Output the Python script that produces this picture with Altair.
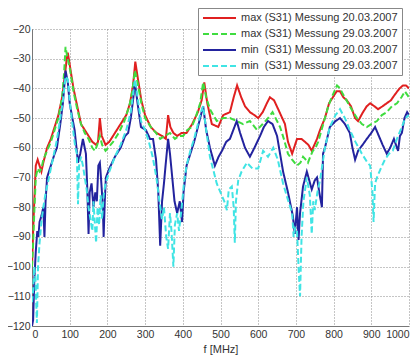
import altair as alt
import pandas as pd

SERIES = [
    "max (S31) Messung 20.03.2007",
    "max (S31) Messung 29.03.2007",
    "min\u00a0\u00a0(S31) Messung 20.03.2007",
    "min\u00a0\u00a0(S31) Messung 29.03.2007",
]
COLORS = ["#e02020", "#3fdc3f", "#23239e", "#40e4e4"]
DASHES = [[1, 0], [6, 3], [1, 0], [6, 3]]

# max 20.03.2007 (red)
red_f = [0, 3, 6, 10, 15, 20, 25, 30, 40, 50,
         60, 70, 80, 87, 92, 95, 100, 110, 120, 130,
         140, 150, 160, 170, 175, 180, 185, 195, 205, 220,
         235, 250, 260, 268, 274, 280, 290, 300, 315, 330,
         345, 355, 361, 367, 375, 385, 397, 410, 425, 440,
         450, 457, 465, 477, 494, 507, 525, 535, 544, 555,
         565, 578, 590, 600, 612, 623, 631, 642, 653, 671,
         679, 690, 703, 715, 724, 733, 742, 756, 764, 777,
         788, 798, 808, 817, 826, 835, 846, 857, 865, 878,
         888, 897, 908, 918, 930, 941, 952, 963, 975, 984,
         992, 1000]
red_v = [-100, -88, -78, -66, -64, -66, -68, -65, -60, -57,
         -53, -49, -43, -36, -30, -28, -32, -40, -46, -52,
         -54, -56, -58, -59, -58, -50, -56, -59, -58, -55,
         -52, -49, -45, -39, -31, -36, -44, -49, -53, -55,
         -56, -57, -49, -53, -55, -56, -55, -55, -52, -48,
         -44, -38, -45, -52, -53, -49, -48, -43, -39, -43,
         -46, -48, -49, -50, -48, -45, -43, -44, -47, -52,
         -58, -62, -57, -57, -58, -59, -61, -57, -54, -50,
         -45, -43, -41, -41, -43, -44, -46, -50, -51, -48,
         -46, -45, -46, -47, -46, -45, -44, -42, -40, -39,
         -39, -40]

# max 29.03.2007 (green, dashed)
green_f = [0, 3, 6, 10, 15, 20, 25, 30, 40, 50,
           60, 70, 80, 85, 89, 93, 100, 110, 120, 130,
           140, 150, 160, 167, 173, 180, 186, 195, 202, 215,
           230, 245, 258, 266, 273, 280, 290, 300, 315, 329,
           340, 352, 366, 379, 390, 401, 412, 424, 436, 446,
           454, 462, 472, 490, 507, 525, 543, 560, 578, 597,
           612, 626, 638, 650, 658, 668, 679, 690, 703, 712,
           719, 726, 732, 738, 745, 752, 759, 768, 777, 786,
           795, 802, 809, 817, 825, 834, 843, 852, 862, 875,
           888, 900, 915, 928, 941, 955, 968, 980, 989, 1000]
green_v = [-100, -92, -82, -70, -67, -68, -67, -64, -61, -58,
           -54, -50, -43, -35, -26, -29, -33, -41, -47, -52,
           -55, -57, -60, -61, -59, -56, -59, -61, -60, -58,
           -55, -51, -46, -41, -34, -38, -45, -50, -53, -55,
           -57, -56, -55, -57, -56, -56, -54, -53, -49, -45,
           -38, -43, -47, -51, -50, -50, -51, -52, -51, -54,
           -52, -50, -48, -51, -53, -57, -62, -64, -66, -65,
           -63, -64, -65, -63, -61, -60, -58, -54, -50, -46,
           -43, -41, -39, -40, -42, -44, -46, -48, -50, -52,
           -53, -52, -51, -49, -48, -46, -45, -43, -41, -43]

# min 20.03.2007 (dark blue)
blue_f = [0, 3, 6, 10, 14, 17, 20, 25, 30, 33,
          36, 40, 50, 60, 66, 75, 82, 89, 95, 100,
          107, 113, 118, 122, 128, 135, 143, 147, 150, 153,
          158, 163, 168, 172, 176, 180, 184, 188, 190, 193,
          196, 205, 220, 235, 247, 255, 262, 268, 273, 280,
          289, 302, 313, 321, 329, 335, 340, 345, 350, 355,
          361, 366, 372, 378, 385, 392, 398, 402, 410, 420,
          430, 440, 448, 454, 462, 472, 485, 495, 504, 515,
          525, 534, 543, 552, 565, 578, 590, 605, 615, 626,
          638, 650, 666, 679, 692, 697, 703, 707, 711, 719,
          729, 742, 750, 756, 762, 769, 772, 777, 790, 805,
          817, 830, 843, 850, 857, 865, 877, 888, 900, 910,
          920, 930, 941, 950, 960, 968, 971, 976, 981, 988,
          995, 1000]
blue_v = [-120, -118, -105, -95, -88, -90, -85, -83, -80, -90,
          -78, -70, -66, -62, -60, -52, -45, -34, -38, -45,
          -50, -54, -60, -65, -62, -57, -62, -75, -89, -75,
          -72, -80, -75, -78, -66, -65, -72, -80, -90, -78,
          -70, -67, -63, -60, -56, -55, -50, -44, -38, -45,
          -53, -54, -57, -57, -64, -75, -93, -78, -72, -65,
          -57, -62, -70, -78, -82, -78, -85, -75, -66, -62,
          -58, -53, -49, -46, -54, -60, -66, -63, -61, -58,
          -57, -54, -51, -55, -60, -63, -60, -56, -53, -51,
          -52, -56, -68, -75, -83, -89, -80, -91, -82, -73,
          -68, -74, -71, -70, -75, -80, -62, -60, -53, -51,
          -50, -52, -55, -60, -64, -61, -59, -57, -55, -53,
          -56, -59, -62, -60, -57, -60, -61, -56, -55, -50,
          -48, -49]

# min 29.03.2007 (cyan, dashed)
cyan_f = [0, 3, 6, 9, 13, 16, 20, 25, 30, 35,
          45, 55, 65, 75, 82, 89, 95, 100, 108, 115,
          119, 122, 125, 130, 135, 140, 145, 150, 155, 160,
          163, 167, 170, 174, 178, 182, 186, 190, 195, 205,
          220, 235, 250, 262, 268, 273, 280, 289, 300, 310,
          320, 330, 338, 345, 350, 356, 361, 366, 370, 375,
          379, 385, 390, 397, 403, 410, 420, 430, 440, 448,
          454, 462, 472, 482, 490, 500, 510, 517, 522, 530,
          535, 538, 541, 547, 556, 570, 585, 600, 613, 626,
          640, 652, 666, 680, 690, 694, 698, 703, 707, 711,
          715, 720, 729, 737, 742, 746, 750, 757, 764, 777,
          790, 805, 817, 830, 843, 858, 875, 890, 897, 903,
          906, 910, 915, 925, 936, 947, 957, 968, 981, 990,
          1000]
cyan_v = [-112, -108, -100, -104, -119, -100, -92, -85, -80, -76,
          -70, -64, -58, -50, -44, -36, -37, -44, -53, -60,
          -62, -79, -66, -63, -66, -70, -74, -80, -84, -88,
          -78, -86, -92, -80, -86, -76, -84, -76, -72, -68,
          -63, -59, -54, -48, -42, -37, -43, -51, -54, -58,
          -63, -70, -78, -84, -80, -90, -94, -82, -88, -100,
          -86, -82, -88, -80, -72, -66, -61, -57, -52, -48,
          -46, -54, -63, -68, -72, -75, -78, -81, -74, -73,
          -80, -92, -78, -71, -68, -65, -67, -67, -61, -63,
          -60, -64, -72, -78, -82, -90, -87, -88, -100, -110,
          -90, -78, -70, -76, -89, -78, -81, -75, -71, -60,
          -53, -49, -47, -50, -54, -58, -62, -65, -66, -75,
          -85, -72, -70, -67, -64, -62, -61, -57, -53, -50,
          -49]

X_TICKS = [0, 100, 200, 300, 400, 500, 600, 700, 800, 900, 1000]
Y_TICKS = [-120, -110, -100, -90, -80, -70, -60, -50, -40, -30, -20]

rows = []
for name, fs, vs in zip(SERIES, [red_f, green_f, blue_f, cyan_f],
                        [red_v, green_v, blue_v, cyan_v]):
    assert len(fs) == len(vs), (name, len(fs), len(vs))
    for i, (f, v) in enumerate(zip(fs, vs)):
        rows.append({"f": f, "v": v, "series": name, "i": i})
df = pd.DataFrame(rows)

FONT = "Liberation Sans"
LEG = dict(title=None, orient="none", legendX=166, legendY=-21)

chart = alt.Chart(df).mark_line(strokeWidth=2, clip=True).encode(
    x=alt.X("f:Q", scale=alt.Scale(domain=[0, 1000], nice=False),
            axis=alt.Axis(values=X_TICKS, title="f [MHz]", grid=True, format="d",
                          ticks=False, labelPadding=3, titlePadding=4)),
    y=alt.Y("v:Q", scale=alt.Scale(domain=[-120, -20], nice=False),
            axis=alt.Axis(values=Y_TICKS, title=None, grid=True, format="d",
                          ticks=False, labelPadding=2)),
    color=alt.Color("series:N", scale=alt.Scale(domain=SERIES, range=COLORS),
                    legend=alt.Legend(**LEG)),
    strokeDash=alt.StrokeDash("series:N",
                              scale=alt.Scale(domain=SERIES, range=DASHES),
                              legend=alt.Legend(**LEG)),
    order="i:Q",
    detail="series:N",
).properties(
    width=377, height=297,
    autosize=alt.AutoSizeParams(type="none"),
    padding={"left": 24, "top": 21, "right": 3, "bottom": 30},
).configure_view(
    stroke=None
).configure_axis(
    labelFont=FONT, labelFontSize=10.5, labelColor="#333333",
    titleFont=FONT, titleFontSize=11, titleColor="#333333", titleFontWeight="normal",
    domainColor="#777777", domainWidth=1,
    gridColor="#8a8a8a", gridDash=[1, 2], gridWidth=1, gridOpacity=1,
).configure_legend(
    fillColor="white", strokeColor="#888888", padding=4, rowPadding=5,
    symbolType="M-1,0L5.6,0", symbolSize=100, symbolStrokeWidth=2,
    symbolFillColor="transparent",
    labelFont=FONT, labelFontSize=11, labelColor="#333333", labelOffset=27,
    labelLimit=300,
)

chart.save("out.html", embed_options={"renderer": "svg", "actions": False})
